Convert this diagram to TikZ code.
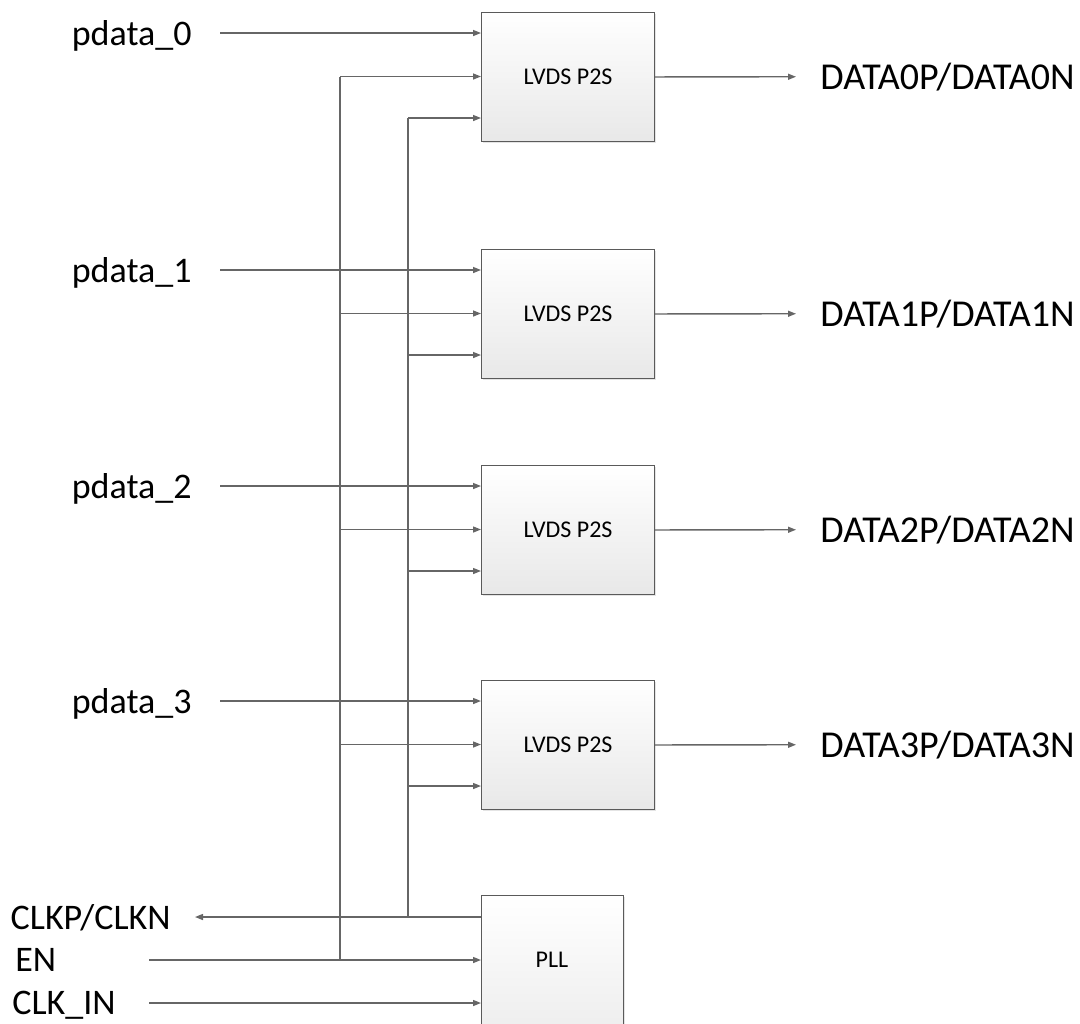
\documentclass[tikz,border=0pt]{standalone}
\usepackage{fontspec}
\setmainfont{Carlito}
\usepackage{xcolor}
\definecolor{wiregray}{HTML}{666666}
\definecolor{boxedge}{HTML}{5A5A5A}
\usepackage{tikz}
\usetikzlibrary{positioning,arrows.meta,calc,shadows}

\begin{document}
\begin{tikzpicture}[x=0.5pt, y=-0.5pt,
    blk/.style={draw=boxedge, line width=0.6pt, top color=white, bottom color=black!9,
                minimum width=86.5pt, minimum height=64.5pt, inner sep=0pt,
                anchor=north west, font=\fontsize{12}{14}\selectfont,
                drop shadow={shadow xshift=0.7pt, shadow yshift=-0.7pt, opacity=0.3, fill=black!35}},
    wire/.style={draw=wiregray, line width=0.7pt},
    sig/.style={wire, -{Triangle[length=4pt, width=3pt]}},
    lbl/.style={font=\fontsize{18}{21}\selectfont, inner sep=0pt, text depth=0pt},
    outlbl/.style={lbl, font=\fontsize{19}{22}\selectfont}]
  \useasboundingbox (0,0) rectangle (1080,1023);
  \clip (0,0) rectangle (1080,1023);

  % LVDS serializer blocks with their inputs and outputs
  \foreach \i/\t in {0/12, 1/249, 2/465, 3/680} {
    \node[blk] (p2s\i) at (481,\t) {LVDS P2S};
    \node[lbl, anchor=east, inner xsep=14pt] (pd\i) at (220,\t+21) {pdata\_\i};
    \node[outlbl, anchor=west, inner xsep=12pt] (out\i) at (796,\t+64.5) {DATA\i P/DATA\i N};
    \coordinate (ena\i) at (340,\t+64.5);
    \coordinate (clk\i) at (408,\t+106);
    \draw[sig] (pd\i) -- (p2s\i.west |- pd\i);
    \draw[sig] (ena\i) -- (p2s\i.west |- ena\i);
    \draw[sig] (clk\i) -- (p2s\i.west |- clk\i);
    \draw[sig] (p2s\i) -- (out\i);
  }

  % PLL and its pins
  \node[blk, minimum width=71pt, minimum height=90pt] (pll) at (481,895) {};
  \node[font=\fontsize{12}{14}\selectfont, inner sep=0pt] (plltxt) at (552,960) {PLL};
  \node[lbl, anchor=east, inner xsep=12pt] (clkp) at (195,917) {CLKP/CLKN};
  \node[lbl, anchor=west] (en) at (15,960) {EN};
  \node[lbl, anchor=west] (clkin) at (12,1003) {CLK\_IN};
  \coordinate (enin) at (149,960);
  \coordinate (ckin) at (149,1003);
  \draw[sig] (pll.west |- clkp) -- (clkp);
  \draw[sig] (enin) -- (pll.west |- enin);
  \draw[sig] (ckin) -- (pll.west |- ckin);

  % enable and clock buses
  \draw[wire] (ena0) -- (ena0 |- enin);
  \draw[wire] (clk0) -- (clk0 |- clkp);
\end{tikzpicture}
\end{document}
